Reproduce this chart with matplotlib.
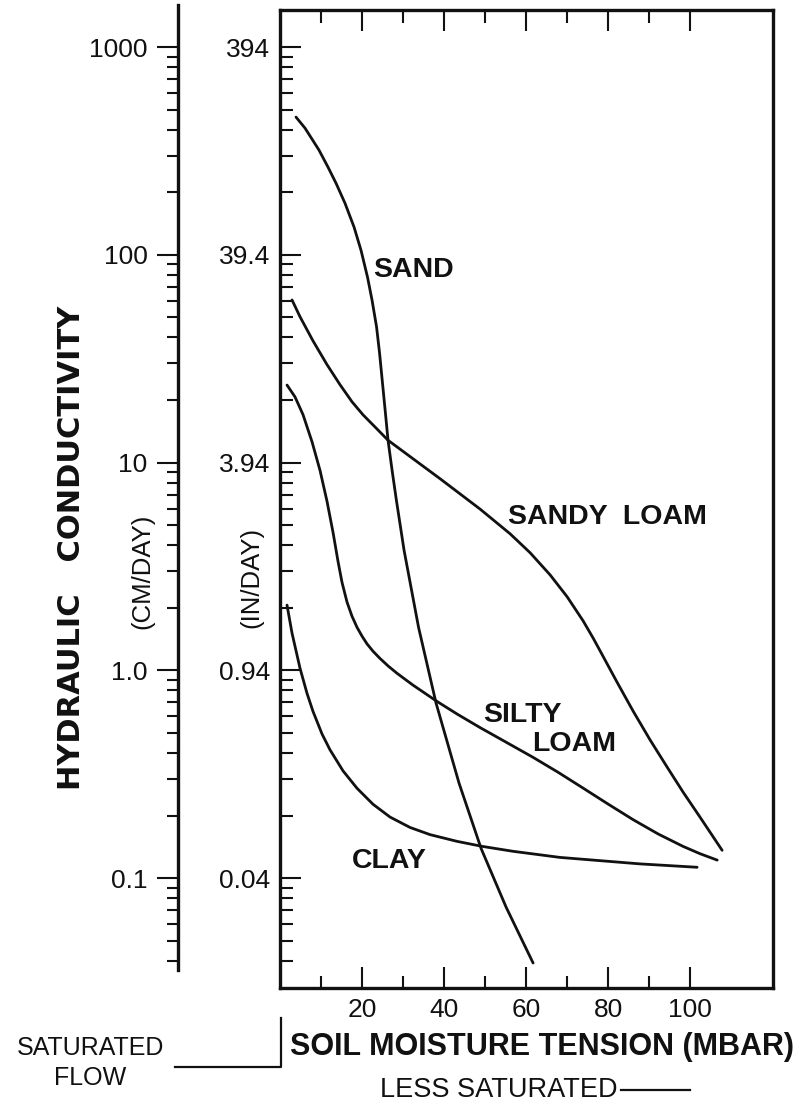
import matplotlib
matplotlib.use("Agg")
import matplotlib.pyplot as plt
from matplotlib.lines import Line2D
from matplotlib.ticker import NullFormatter

plt.rcParams['font.family'] = ['Liberation Sans', 'DejaVu Sans']

# Soil moisture tension (mbar) vs hydraulic conductivity (cm/day)
sand_x = [3.9, 6.1, 9.51, 11.71, 13.66, 15.85, 18.05, 19.76, 21.34, 22.44, 23.54, 24.27,
          25.0, 25.68, 26.34, 27.32, 28.37, 30.24, 33.78, 38.05, 43.66, 49.02, 55.12, 61.71]
sand_k = [460, 407, 319, 264, 221, 177, 136, 105, 78, 60.5, 45, 33.7,
          24, 17.5, 12.8, 9.2, 6.6, 3.79, 1.61, 0.695, 0.286, 0.139, 0.0725, 0.039]

sandy_loam_x = [2.93, 4.88, 8.05, 11.46, 14.63, 17.56, 20.24, 23.66, 26.34, 30.98, 39.02,
                48.78, 56.1, 60.98, 65.85, 70.0, 73.9, 76.34, 78.05, 82.2, 86.1, 90.24,
                94.39, 98.29, 102.44, 107.8]
sandy_loam_k = [60.6, 50.3, 38.5, 29.6, 23.7, 19.6, 16.97, 14.5, 12.8, 10.95, 8.36,
                5.97, 4.54, 3.68, 2.88, 2.26, 1.73, 1.43, 1.24, 0.875, 0.636, 0.462,
                0.342, 0.259, 0.196, 0.136]

silty_loam_x = [1.71, 3.66, 5.61, 7.80, 9.76, 11.46, 12.93, 14.15, 15.12, 16.34, 17.56,
                18.78, 20.0, 21.22, 22.68, 24.39, 26.34, 28.54, 32.44, 38.29, 43.17,
                48.78, 55.37, 61.71, 67.8, 73.9, 80.0, 86.1, 92.2, 98.29, 102.4, 106.6]
silty_loam_k = [23.6, 20.7, 17.0, 12.6, 9.16, 6.51, 4.61, 3.34, 2.65, 2.13, 1.82,
                1.61, 1.46, 1.34, 1.235, 1.14, 1.05, 0.967, 0.848, 0.708, 0.616,
                0.530, 0.448, 0.381, 0.323, 0.271, 0.227, 0.191, 0.163, 0.142, 0.131, 0.122]

clay_x = [1.71, 2.93, 4.88, 6.59, 8.05, 10.24, 12.2, 15.37, 18.78, 22.68, 26.83, 31.71,
          36.59, 43.17, 49.27, 56.83, 68.29, 87.8, 101.7]
clay_k = [2.06, 1.51, 1.023, 0.774, 0.634, 0.494, 0.414, 0.328, 0.2705, 0.2266, 0.1966,
          0.1752, 0.1618, 0.1502, 0.1421, 0.1345, 0.1257, 0.117, 0.1127]

# axis ticks and their labels
cm_ticks = [0.1, 1, 10, 100, 1000]
cm_labels = ['0.1', '1.0', '10', '100', '1000']
in_labels = ['0.04', '0.94', '3.94', '39.4', '394']
x_major = [20, 40, 60, 80, 100]
x_minor = [10, 30, 50, 70, 90]

W, H = 801, 1109
fig = plt.figure(figsize=(W / 100, H / 100), dpi=100)
ax = fig.add_axes([280 / W, 1 - 988 / H, 493 / W, (988 - 10) / H])

ink = '#111111'
for xs, ks in [(sand_x, sand_k), (sandy_loam_x, sandy_loam_k),
               (silty_loam_x, silty_loam_k), (clay_x, clay_k)]:
    ax.plot(xs, ks, color=ink, lw=2.0, solid_capstyle='round', solid_joinstyle='round')

ax.set_yscale('log')
ax.set_xlim(0, 120.2)
ax.set_ylim(0.02957, 1507)

minor_y = [k * 10.0 ** e for e in range(-2, 3) for k in range(2, 10)]
minor_y = [v for v in minor_y if 0.031 < v < 1500]

for s in ax.spines.values():
    s.set_linewidth(2.4)
    s.set_color(ink)

ax.set_yticks(cm_ticks, labels=in_labels)
ax.set_yticks(minor_y, minor=True)
ax.yaxis.set_minor_formatter(NullFormatter())
ax.set_xticks(x_major, labels=[str(v) for v in x_major])
ax.set_xticks(x_minor, minor=True)
ax.tick_params(axis='both', which='both', direction='in', color=ink,
               top=True, right=True, labelsize=19, labelcolor=ink)
ax.tick_params(axis='both', which='major', length=15, width=1.5, pad=7)
ax.tick_params(axis='both', which='minor', length=9, width=1.5)

# outer cm/day axis
ax2 = ax.twinx()
ax2.set_yscale('log')
ax2.set_ylim(ax.get_ylim())
ax2.yaxis.tick_left()
for s in ['top', 'bottom', 'right']:
    ax2.spines[s].set_visible(False)
ax2.spines['left'].set_visible(True)
ax2.spines['left'].set_position(('axes', -102 / 493))
ax2.spines['left'].set_bounds(0.036, 1592)
ax2.spines['left'].set_linewidth(2.4)
ax2.spines['left'].set_color(ink)
ax2.set_yticks(cm_ticks, labels=cm_labels)
ax2.set_yticks(minor_y, minor=True)
ax2.yaxis.set_minor_formatter(NullFormatter())
ax2.tick_params(axis='y', which='both', direction='out', color=ink,
                labelsize=19, labelcolor=ink, left=True, right=False,
                labelleft=True, labelright=False)
ax2.tick_params(axis='y', which='major', length=15, width=1.5, pad=7)
ax2.tick_params(axis='y', which='minor', length=8, width=1.5)

# curve labels
lab = dict(color=ink, fontsize=20.5, fontweight='bold', ha='left', va='center')
ax.text(22.7, 84.5, 'SAND', **lab)
ax.text(55.6, 5.47, 'SANDY  LOAM', **lab)
ax.text(49.5, 0.61, 'SILTY', **lab)
ax.text(61.5, 0.44, 'LOAM', **lab)
ax.text(17.6, 0.121, 'CLAY', **lab)

# axis titles
fig.text(72 / W, 1 - 548 / H, 'HYDRAULIC   CONDUCTIVITY', rotation=90,
         ha='center', va='center', fontsize=22, fontweight='bold',
         family='DejaVu Sans', color=ink)
fig.text(142 / W, 1 - 571 / H, '(CM/DAY)', rotation=90, ha='center',
         va='center', fontsize=18.5, color=ink)
fig.text(251 / W, 1 - 577 / H, '(IN/DAY)', rotation=90, ha='center',
         va='center', fontsize=18.5, color=ink)
fig.text(542 / W, 1 - 1047 / H, 'SOIL MOISTURE TENSION (MBAR)', ha='center',
         va='center', fontsize=22, fontweight='bold', color=ink)

# saturated / less saturated notes
fig.text(90 / W, 1 - 1063 / H, 'SATURATED\nFLOW', ha='center', va='center',
         fontsize=18, linespacing=1.3, color=ink)
fig.add_artist(Line2D([175 / W, 281 / W, 281 / W],
                      [1 - 1067 / H, 1 - 1067 / H, 1 - 1018 / H],
                      transform=fig.transFigure, color=ink, lw=1.6))
fig.text(380 / W, 1 - 1090 / H, 'LESS SATURATED', ha='left', va='center',
         fontsize=19.5, color=ink)
fig.add_artist(Line2D([621 / W, 690 / W], [1 - 1090 / H, 1 - 1090 / H],
                      transform=fig.transFigure, color=ink, lw=1.6))

fig.savefig('out.png', dpi=100, facecolor='white')
